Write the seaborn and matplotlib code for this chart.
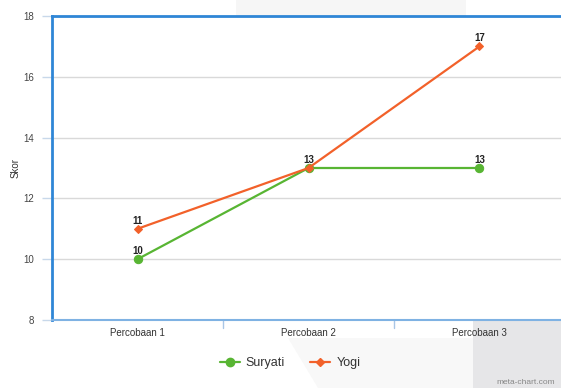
import matplotlib
matplotlib.use("Agg")
import matplotlib.pyplot as plt
from matplotlib.patches import Polygon
from matplotlib.lines import Line2D
import seaborn as sns
import pandas as pd

categories = ["Percobaan 1", "Percobaan 2", "Percobaan 3"]
suryati = [10, 13, 13]
yogi = [11, 13, 17]
series_names = ["Suryati", "Yogi"]
yticks = [8, 10, 12, 14, 16, 18]

green = "#58b533"
orange = "#f2612a"
blue = "#2f86d6"

sns.set_theme(style="white")
plt.rcParams["font.family"] = ["Liberation Sans", "DejaVu Sans"]

df = pd.DataFrame({
    "Percobaan": categories * 2,
    "Skor": suryati + yogi,
    "Nama": [series_names[0]] * 3 + [series_names[1]] * 3,
})

fig = plt.figure(figsize=(5.61, 3.88), dpi=100)
fig.patch.set_facecolor("white")

# faint background shapes, kept behind the axes
bg = [
    ([[236/561, 1], [466/561, 1], [466/561, 1 - 16/388], [236/561, 1 - 16/388]], "#f6f6f6"),
    ([[288/561, 1 - 338/388], [1, 1 - 338/388], [1, 0], [318/561, 0]], "#f8f8f8"),
    ([[473/561, 1 - 320/388], [1, 1 - 320/388], [1, 0], [473/561, 0]], "#e6e6e8"),
]
for pts, col in bg:
    fig.patches.append(Polygon(pts, closed=True, transform=fig.transFigure,
                               facecolor=col, edgecolor="none", zorder=-10))

ax = fig.add_axes([52/561, 1 - 320/388, 1 - 52/561, (320 - 16)/388])
ax.set_facecolor("white")
ax.set_zorder(1)

sns.lineplot(data=df[df["Nama"] == "Suryati"], x="Percobaan", y="Skor", ax=ax,
             color=green, linewidth=1.6, marker="o", markersize=6,
             markeredgecolor=green, legend=False, zorder=3)
sns.lineplot(data=df[df["Nama"] == "Yogi"], x="Percobaan", y="Skor", ax=ax,
             color=orange, linewidth=1.6, marker="D", markersize=4,
             markeredgecolor=orange, legend=False, zorder=4)

# value labels (one label where both series share a value)
for i in range(len(categories)):
    values = {suryati[i], yogi[i]}
    for v in values:
        ax.text(i, v + 0.1, str(v), ha="center", va="bottom", fontsize=7,
                fontweight="bold", color="#222222", zorder=5)

ax.set_ylim(8, 18)
ax.set_xlim(-0.5, 2.5 - 4/171)
ax.set_yticks(yticks)
ax.set_yticklabels([str(t) for t in yticks], fontsize=7, color="#444444")
ax.set_xticks(range(len(categories)))
ax.set_xticklabels(categories, fontsize=7, color="#333333")
ax.tick_params(axis="x", length=0, pad=6)
ax.tick_params(axis="y", length=7, width=1, color="#c8d8ea", pad=6, direction="out", left=True)
for sep in [0.5, 1.5]:
    ax.plot([sep, sep], [0, -8/304], transform=ax.get_xaxis_transform(), color="#a9c6e6",
            linewidth=1, clip_on=False)

ax.grid(axis="y", color="#d9d9d9", linewidth=1)
ax.grid(axis="x", visible=False)
ax.set_axisbelow(True)

ax.spines["left"].set_color(blue)
ax.spines["left"].set_linewidth(2)
ax.spines["top"].set_color(blue)
ax.spines["top"].set_linewidth(2)
ax.spines["bottom"].set_color("#7fb2e3")
ax.spines["bottom"].set_linewidth(1.5)
ax.spines["right"].set_visible(False)

ax.set_xlabel("")
ax.set_ylabel("Skor", fontsize=7, color="#333333")
ax.yaxis.set_label_coords((21 - 52) / 509, 0.5)

handles = [
    Line2D([0], [0], color=green, linewidth=1.6, marker="o", markersize=6),
    Line2D([0], [0], color=orange, linewidth=1.6, marker="D", markersize=4),
]
fig.legend(handles, series_names, loc="center", bbox_to_anchor=(290/561, 1 - 363/388), ncol=2,
           frameon=False, fontsize=9, handlelength=1.6, columnspacing=2.0, handletextpad=0.5,
           labelcolor="#333333")

fig.text(496/561, 1 - 382/388, "meta-chart.com", fontsize=6, color="#888888", ha="left", va="center")

fig.savefig("out.png", dpi=100)
